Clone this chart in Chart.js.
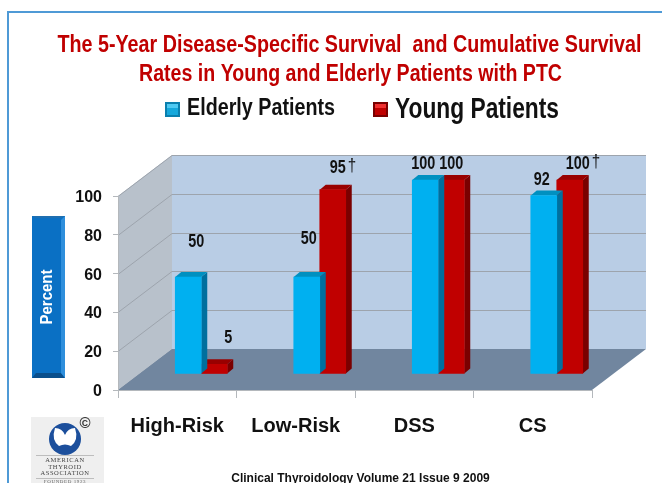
<!DOCTYPE html>
<html>
<head>
<meta charset="utf-8">
<style>
  html, body { margin: 0; padding: 0; background: #fff; }
  canvas { display: block; }
</style>
<script src="https://cdn.jsdelivr.net/npm/chart.js@4"></script>
</head>
<body>
<canvas id="chart" width="662" height="483"></canvas>
<script>
const categories = ["High-Risk", "Low-Risk", "DSS", "CS"];
const elderlyValues = [50, 50, 100, 92];
const youngValues = [5, 95, 100, 100];
const yTicks = [0, 20, 40, 60, 80, 100];
const elderlyMarks = ["", "", "", ""];
const youngMarks = ["", "\u2020", "", "\u2020"];

const SANS = '"Liberation Sans", Arial, sans-serif';
const BAR_SHIFT_X = 24, BAR_SHIFT_Y = -16;   // bars stand part way back on the floor
const WALL_DX = 54, WALL_DY = -41;
const SIDE_DX = 6, SIDE_DY = -5;

// label nudges from the top centre of each bar, [dx, dy]
const elderlyLabelNudge = [[8, -35], [2, -37.5], [-2, -16], [-2, -15.5]];
const youngLabelNudge = [[14, -26], [5, -22], [0, -16], [8, -16]];

function poly(ctx, pts, fill, stroke) {
  ctx.beginPath();
  pts.forEach((p, i) => i ? ctx.lineTo(p[0], p[1]) : ctx.moveTo(p[0], p[1]));
  ctx.closePath();
  if (fill) { ctx.fillStyle = fill; ctx.fill(); }
  if (stroke) { ctx.strokeStyle = stroke; ctx.stroke(); }
}

// the slide text is a squeezed Arial, so text can be fitted to a width or squeezed by a ratio
function label(ctx, text, x, y, font, color, opts = {}) {
  ctx.save();
  ctx.font = font;
  ctx.fillStyle = color;
  ctx.textAlign = opts.align || "center";
  ctx.textBaseline = "middle";
  const sx = opts.width ? opts.width / ctx.measureText(text).width : (opts.squeeze || 1);
  ctx.translate(x, y);
  ctx.scale(sx, 1);
  ctx.fillText(text, 0, 0);
  ctx.restore();
}

// slide furniture + walls, drawn behind the datasets
const slidePlugin = {
  id: "slide",
  beforeDatasetsDraw(chart) {
    const { ctx, scales, chartArea: a } = chart;
    const y = scales.y;
    const y0 = y.getPixelForValue(0), y100 = y.getPixelForValue(100);
    ctx.save();
    // frame
    ctx.strokeStyle = "#4f9ad6";
    ctx.lineWidth = 2;
    ctx.beginPath();
    ctx.moveTo(8, 483); ctx.lineTo(8, 12); ctx.lineTo(662, 12);
    ctx.stroke();
    ctx.lineWidth = 1;
    // back wall
    poly(ctx, [[a.left + WALL_DX, y100 + WALL_DY], [a.right + WALL_DX, y100 + WALL_DY],
               [a.right + WALL_DX, y0 + WALL_DY], [a.left + WALL_DX, y0 + WALL_DY]], "#b9cde5");
    // left wall
    poly(ctx, [[a.left, y100], [a.left + WALL_DX, y100 + WALL_DY],
               [a.left + WALL_DX, y0 + WALL_DY], [a.left, y0]], "#b8c1cb");
    // grid
    ctx.strokeStyle = "#9da4ad";
    yTicks.forEach(v => {
      const py = Math.round(y.getPixelForValue(v)) + 0.5;
      ctx.beginPath();
      ctx.moveTo(a.left, py);
      ctx.lineTo(a.left + WALL_DX, py + WALL_DY);
      if (v > 0) ctx.lineTo(a.right + WALL_DX, py + WALL_DY);
      ctx.stroke();
    });
    // floor
    poly(ctx, [[a.left, y0], [a.right, y0], [a.right + WALL_DX, y0 + WALL_DY], [a.left + WALL_DX, y0 + WALL_DY]], "#71869f");
    // axis lines
    ctx.strokeStyle = "#b4b8bc";
    ctx.beginPath();
    ctx.moveTo(a.left + 0.5, y100); ctx.lineTo(a.left + 0.5, y0);
    ctx.moveTo(a.left, y0 + 0.5); ctx.lineTo(a.right, y0 + 0.5);
    ctx.stroke();
    ctx.restore();

    // every bar and its depth is moved back onto the floor
    ctx.save();
    ctx.translate(BAR_SHIFT_X, BAR_SHIFT_Y);
  },
  beforeDatasetDraw(chart, args) {
    const { ctx } = chart;
    const ds = chart.data.datasets[args.index];
    args.meta.data.forEach(bar => {
      const l = bar.x - bar.width / 2, r = bar.x + bar.width / 2;
      poly(ctx, [[r, bar.y], [r + SIDE_DX, bar.y + SIDE_DY], [r + SIDE_DX, bar.base + SIDE_DY], [r, bar.base]], ds.sideColor);
      poly(ctx, [[l, bar.y], [l + SIDE_DX, bar.y + SIDE_DY], [r + SIDE_DX, bar.y + SIDE_DY], [r, bar.y]], ds.topColor);
    });
  },
  afterDatasetsDraw(chart) {
    const { ctx } = chart;
    ctx.restore();
    const font = "bold 18px " + SANS;
    [[0, elderlyValues, elderlyMarks, elderlyLabelNudge], [1, youngValues, youngMarks, youngLabelNudge]].forEach(([i, vals, marks, nudge]) => {
      chart.getDatasetMeta(i).data.forEach((bar, k) => {
        const x = bar.x + BAR_SHIFT_X + nudge[k][0], y = bar.y + BAR_SHIFT_Y + nudge[k][1];
        const text = String(vals[k]);
        label(ctx, text, x, y, font, "#111", { squeeze: 0.8 });
        if (marks[k]) {
          ctx.font = font;
          const w = ctx.measureText(text).width * 0.8;
          label(ctx, marks[k], x + w / 2 + 2, y - 2, "19px " + SANS, "#111", { align: "left", squeeze: 0.8 });
        }
      });
    });
  },
  afterDraw(chart) {
    const { ctx } = chart;
    ctx.save();
    // title
    const titleFont = "bold 23px " + SANS;
    label(ctx, "The 5-Year Disease-Specific Survival  and Cumulative Survival", 349.5, 46, titleFont, "#c00000", { width: 584 });
    label(ctx, "Rates in Young and Elderly Patients with PTC", 350.5, 75, titleFont, "#c00000", { width: 423 });

    // legend
    const key = (x, y, light, mid, dark) => {
      ctx.fillStyle = dark; ctx.fillRect(x, y, 15, 15);
      ctx.fillStyle = mid; ctx.fillRect(x + 2, y + 2, 11, 11);
      ctx.fillStyle = light; ctx.fillRect(x + 2, y + 2, 11, 4);
    };
    key(165, 102, "#4fc9f2", "#16a8dc", "#0a7fae");
    key(373, 102, "#f03030", "#c00000", "#7a0000");
    label(ctx, "Elderly Patients", 187, 109, "bold 23px " + SANS, "#111", { align: "left", width: 148 });
    label(ctx, "Young Patients", 395, 110, "bold 29px " + SANS, "#111", { align: "left", width: 164 });

    // y axis name box
    ctx.fillStyle = "#0a70c4"; ctx.fillRect(32, 216, 33, 162);
    poly(ctx, [[32, 378], [65, 378], [61, 373], [36, 373]], "#0a4f8c");
    poly(ctx, [[65, 216], [65, 378], [61, 373], [61, 220]], "#2f8fdc");
    poly(ctx, [[32, 216], [65, 216], [61, 218], [36, 218]], "#1f6fb0");
    ctx.save();
    ctx.translate(47.5, 297);
    ctx.rotate(-Math.PI / 2);
    label(ctx, "Percent", 0, 0, "bold 17px " + SANS, "#fff", { width: 55 });
    ctx.restore();

    // logo
    ctx.fillStyle = "#efefef"; ctx.fillRect(31, 417, 73, 66);
    ctx.fillStyle = "#1c4f9c";
    ctx.beginPath(); ctx.arc(65, 439, 16, 0, Math.PI * 2); ctx.fill();
    ctx.fillStyle = "#fff";
    ctx.beginPath();
    ctx.moveTo(55, 428); ctx.quadraticCurveTo(62, 428, 65, 435); ctx.quadraticCurveTo(68, 428, 75, 428);
    ctx.quadraticCurveTo(79, 440, 71, 446); ctx.quadraticCurveTo(65, 443, 59, 446); ctx.quadraticCurveTo(51, 440, 55, 428);
    ctx.fill();
    label(ctx, "\u00a9", 85, 424, "bold 15px " + SANS, "#333");
    ctx.fillStyle = "#bdbdbd"; ctx.fillRect(36, 455, 58, 1); ctx.fillRect(36, 478, 58, 1);
    const logoFont = '6.5px "Liberation Serif", serif';
    ctx.letterSpacing = "0.6px";
    label(ctx, "AMERICAN", 65, 460, logoFont, "#444");
    label(ctx, "THYROID", 65, 467, logoFont, "#444");
    label(ctx, "ASSOCIATION", 65, 473.5, logoFont, "#444");
    label(ctx, "FOUNDED 1923", 65, 482, '5px "Liberation Serif", serif', "#666");
    ctx.letterSpacing = "0px";

    // source line
    label(ctx, "Clinical Thyroidology Volume 21 Issue 9 2009", 360.5, 479, "bold 12px " + SANS, "#111");
    ctx.restore();
  }
};

new Chart(document.getElementById("chart"), {
  type: "bar",
  data: {
    labels: categories,
    datasets: [
      { label: "Elderly Patients", data: elderlyValues, backgroundColor: "#00b0f0", sideColor: "#006f9e", topColor: "#0090c0", clip: false, barThickness: 26 },
      { label: "Young Patients", data: youngValues, backgroundColor: "#c00000", sideColor: "#7a0000", topColor: "#990000", clip: false, barThickness: 26 }
    ]
  },
  options: {
    responsive: false,
    animation: false,
    events: [],
    layout: { padding: { left: 0, right: 70, top: 196, bottom: 0 } },
    plugins: { legend: { display: false }, title: { display: false }, tooltip: { enabled: false } },
    scales: {
      x: {
        offset: true,
        border: { display: false },
        grid: { drawOnChartArea: false, offset: true, color: "#b4b8bc", tickLength: 8 },
        ticks: { color: "#111", font: { family: SANS, size: 20, weight: "bold" }, padding: 16, maxRotation: 0 },
        afterFit(s) { s.height = 93; }
      },
      y: {
        min: 0,
        max: 100,
        border: { display: false },
        grid: { drawOnChartArea: false, color: "#b4b8bc", tickLength: 5 },
        ticks: { color: "#111", font: { family: SANS, size: 16, weight: "bold" }, stepSize: 20, padding: 11, labelOffset: 1.5 },
        afterFit(s) { s.width = 118; }
      }
    }
  },
  plugins: [slidePlugin]
});
</script>
</body>
</html>
